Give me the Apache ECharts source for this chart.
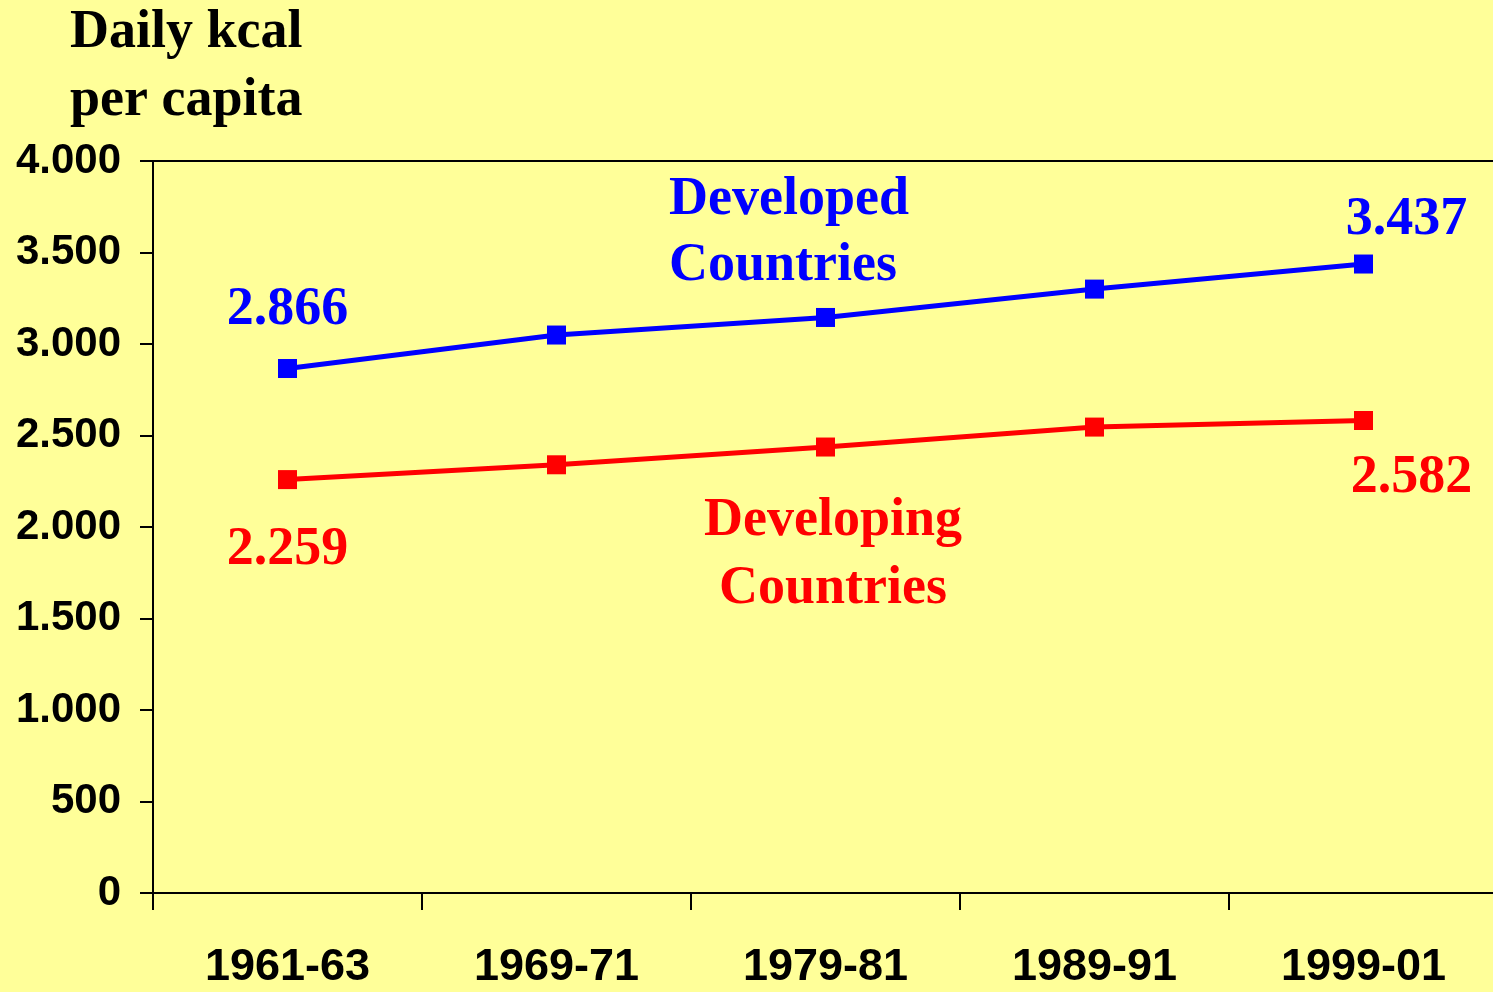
<!DOCTYPE html>
<html>
<head>
<meta charset="utf-8">
<script src="https://cdn.jsdelivr.net/npm/echarts@6/dist/echarts.min.js"></script>
<style>
  html, body { margin: 0; padding: 0; background: #FFFF99; }
  #chart { width: 1493px; height: 992px; }
</style>
</head>
<body>
<div id="chart"></div>
<script>
// periods on the x axis
var periods = ['1961-63', '1969-71', '1979-81', '1989-91', '1999-01'];
// daily kcal per capita
var developed = [2866, 3049, 3145, 3300, 3437];
var developing = [2259, 2340, 2437, 2546, 2582];
// y axis ticks
var yMin = 0;
var yMax = 4000;
var yStep = 500;

var SANS = '"Liberation Sans", Arial, sans-serif';
var SERIF = '"Liberation Serif", "Times New Roman", serif';

function dotThousands(v) {
    return String(v).replace(/\B(?=(\d{3})+(?!\d))/g, '.');
}

// which points get a value label, and where
var developedLabels = {
    0: { position: 'top', offset: [0, -17] },
    4: { position: 'top', offset: [43, -2] }
};
var developingLabels = {
    0: { position: 'bottom', offset: [0, 29] },
    4: { position: 'bottom', offset: [48, 16] }
};

function withLabels(values, labels, color) {
    return values.map(function (v, i) {
        var item = { value: v };
        if (labels[i]) {
            item.label = {
                show: true,
                position: labels[i].position,
                offset: labels[i].offset,
                distance: 5,
                formatter: function (p) { return dotThousands(p.value); },
                color: color,
                fontFamily: SERIF,
                fontWeight: 'bold',
                fontSize: 54
            };
        }
        return item;
    });
}

var myChart = echarts.init(document.getElementById('chart'));

var option = {
    backgroundColor: '#FFFF99',
    animation: false,
    grid: {
        left: 153,
        top: 161,
        width: 1345,
        bottom: 99,
        outerBoundsMode: 'none'
    },
    xAxis: [
        {
            type: 'category',
            data: periods,
            boundaryGap: true,
            axisLine: { lineStyle: { color: '#000', width: 2 } },
            axisTick: { show: true, length: 17, lineStyle: { color: '#000', width: 2 } },
            axisLabel: {
                margin: 52,
                color: '#000',
                fontFamily: SANS,
                fontWeight: 'bold',
                fontSize: 45
            },
            splitLine: { show: false }
        },
        {
            // top border of the plot
            type: 'category',
            position: 'top',
            data: periods,
            axisLine: { lineStyle: { color: '#000', width: 2 } },
            axisTick: { show: false },
            axisLabel: { show: false },
            splitLine: { show: false }
        }
    ],
    yAxis: {
        type: 'value',
        min: yMin,
        max: yMax,
        interval: yStep,
        axisLine: { show: true, lineStyle: { color: '#000', width: 2 } },
        axisTick: { show: true, length: 13, lineStyle: { color: '#000', width: 2 } },
        axisLabel: {
            margin: 32,
            color: '#000',
            fontFamily: SANS,
            fontWeight: 'bold',
            fontSize: 42,
            formatter: dotThousands
        },
        splitLine: { show: false }
    },
    series: [
        {
            name: 'Developed Countries',
            type: 'line',
            data: withLabels(developed, developedLabels, '#0000FF'),
            symbol: 'rect',
            symbolSize: 19,
            lineStyle: { color: '#0000FF', width: 5 },
            itemStyle: { color: '#0000FF' }
        },
        {
            name: 'Developing Countries',
            type: 'line',
            data: withLabels(developing, developingLabels, '#FF0000'),
            symbol: 'rect',
            symbolSize: 19,
            lineStyle: { color: '#FF0000', width: 5 },
            itemStyle: { color: '#FF0000' }
        }
    ],
    graphic: [
        {
            type: 'text',
            left: 70,
            top: -1,
            style: {
                text: 'Daily kcal\nper capita',
                fill: '#000',
                font: 'bold 54px ' + SERIF,
                lineHeight: 68
            }
        },
        {
            type: 'text',
            left: 669,
            top: 167,
            style: {
                text: 'Developed\nCountries',
                fill: '#0000FF',
                font: 'bold 54px ' + SERIF,
                lineHeight: 66
            }
        },
        {
            type: 'text',
            x: 833,
            y: 555,
            style: {
                text: 'Developing\nCountries',
                fill: '#FF0000',
                font: 'bold 54px ' + SERIF,
                lineHeight: 68,
                align: 'center',
                verticalAlign: 'middle'
            }
        }
    ]
};

myChart.setOption(option);

window.onresize = function () {
    myChart.resize();
};
</script>
</body>
</html>
